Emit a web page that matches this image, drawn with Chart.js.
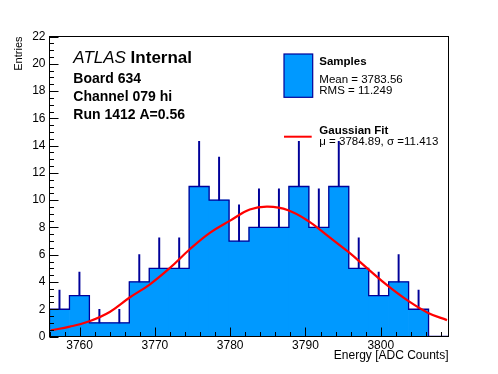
<!DOCTYPE html>
<html>
<head>
<meta charset="utf-8">
<script src="https://cdn.jsdelivr.net/npm/chart.js@4/dist/chart.umd.min.js"></script>
<style>
  body { margin: 0; background: #fff; }
</style>
</head>
<body>
<canvas id="HistChart" width="498" height="374"></canvas>
<script>
// histogram bins (ADC counts) and entries per bin
const binEdges = [3756.00, 3758.65, 3761.30, 3763.95, 3766.60, 3769.25, 3771.90, 3774.55, 3777.20, 3779.85,
                  3782.50, 3785.15, 3787.80, 3790.45, 3793.10, 3795.75, 3798.40, 3801.05, 3803.70, 3806.35, 3809.00];
const binCounts = [2, 3, 1, 1, 4, 5, 5, 11, 10, 7, 8, 8, 11, 8, 11, 5, 3, 4, 2, 0];
const binErrors = [1.41, 1.73, 1, 1, 2, 2.24, 2.24, 3.32, 3.16, 2.65, 2.83, 2.83, 3.32, 2.83, 3.32, 2.24, 1.73, 2, 1.41, 0];

// gaussian fit curve
const fitX = [3756.2, 3758.7, 3761.3, 3764.0, 3766.6, 3769.3, 3772.0, 3774.6, 3777.3, 3780.0, 3782.6,
              3785.0, 3787.7, 3790.4, 3793.0, 3795.7, 3798.4, 3801.0, 3803.7, 3806.3, 3808.8];
const fitY = [0.46, 0.72, 1.12, 1.8, 2.84, 3.81, 5.03, 6.38, 7.6, 8.5, 9.31,
              9.52, 9.26, 8.46, 7.36, 6.2, 4.91, 3.69, 2.59, 1.73, 1.2];

const xTicks = [3760, 3770, 3780, 3790, 3800];
const yTicks = [0, 2, 4, 6, 8, 10, 12, 14, 16, 18, 20, 22];

const FONT = "'Liberation Sans', Arial, Helvetica, sans-serif";
const FILL = '#0099ff';
const LINE = '#000099';

const binCenters = binCounts.map((c, i) => (binEdges[i] + binEdges[i + 1]) / 2);
const histFill = binCounts.map((c, i) => ({x: binCenters[i], y: c}));
const histErr = binCounts.map((c, i) => ({x: binCenters[i], y: [c, c + binErrors[i]]})).filter(p => p.y[1] > p.y[0]);

// outline of the histogram as a step line over the bin edges
const histLine = [{x: binEdges[0], y: 0}];
binCounts.forEach((c, i) => histLine.push({x: binEdges[i], y: c}));
histLine.push({x: binEdges[binEdges.length - 1], y: binCounts[binCounts.length - 1]});

const fitLine = fitX.map((x, i) => ({x: x, y: fitY[i]}));

// ROOT style frame with inward ticks, plus the text boxes
const rootFrame = {
    id: 'rootFrame',
    afterDatasetsDraw(chart) {
        const ctx = chart.ctx;
        const a = chart.chartArea;
        const xs = chart.scales.x;
        const ys = chart.scales.y;
        ctx.save();
        ctx.strokeStyle = '#000';
        ctx.lineWidth = 1;
        ctx.beginPath();
        for (let v = 3756; v <= xs.max; v += 2) {
            const px = Math.round(xs.getPixelForValue(v)) + 0.5;
            const len = v % 10 === 0 ? 9 : 4.5;
            ctx.moveTo(px, a.bottom);
            ctx.lineTo(px, a.bottom - len);
        }
        for (let v = 0; v <= ys.max; v += 0.5) {
            const py = Math.round(ys.getPixelForValue(v)) + 0.5;
            const len = v % 2 === 0 ? 9 : 4.5;
            ctx.moveTo(a.left, py);
            ctx.lineTo(a.left + len, py);
        }
        ctx.stroke();
        ctx.strokeRect(a.left, a.top, a.right - a.left, a.bottom - a.top);
        ctx.restore();
    },
    afterDraw(chart) {
        const ctx = chart.ctx;
        ctx.save();
        ctx.fillStyle = '#000';
        ctx.textBaseline = 'alphabetic';

        ctx.font = 'italic 17px ' + FONT;
        ctx.fillText('ATLAS', 73.3, 62.8);
        const w = ctx.measureText('ATLAS ').width;
        ctx.font = 'bold 17px ' + FONT;
        ctx.fillText('Internal', 73.3 + w, 62.8);

        ctx.font = 'bold 14px ' + FONT;
        ctx.fillText('Board 634', 73.3, 82.7);
        ctx.fillText('Channel 079 hi', 73.3, 100.8);
        ctx.fillText('Run 1412 A=0.56', 73.3, 118.8);

        // legend
        ctx.fillStyle = FILL;
        ctx.fillRect(284, 54, 28.7, 43.3);
        ctx.strokeStyle = LINE;
        ctx.lineWidth = 1.2;
        ctx.strokeRect(284, 54, 28.7, 43.3);
        ctx.strokeStyle = '#ff0000';
        ctx.lineWidth = 2;
        ctx.beginPath();
        ctx.moveTo(284, 136.7);
        ctx.lineTo(311.7, 136.7);
        ctx.stroke();

        ctx.fillStyle = '#000';
        ctx.font = 'bold 11.5px ' + FONT;
        ctx.fillText('Samples', 319.3, 65);
        ctx.fillText('Gaussian Fit', 319.3, 134.3);
        ctx.font = '11.5px ' + FONT;
        ctx.fillText('Mean = 3783.56', 319.3, 82.7);
        ctx.fillText('RMS = 11.249', 319.3, 93.6);
        ctx.fillText('\u03bc = 3784.89, \u03c3 =11.413', 319.3, 145);
        ctx.restore();
    }
};

const ctx_Hist = document.getElementById('HistChart').getContext('2d');
new Chart(ctx_Hist, {
    type: 'bar',
    data: {
        datasets: [
            {
                label: 'Samples',
                data: histFill,
                backgroundColor: FILL,
                borderWidth: 0,
                barPercentage: 1.0,
                categoryPercentage: 1.0,
                grouped: false,
                order: 4
            },
            {
                label: 'Errors',
                data: histErr,
                backgroundColor: LINE,
                borderWidth: 0,
                barThickness: 1.3,
                grouped: false,
                order: 3
            },
            {
                type: 'line',
                label: 'Outline',
                data: histLine,
                borderColor: LINE,
                borderWidth: 1.3,
                stepped: 'before',
                pointRadius: 0,
                fill: false,
                order: 2
            },
            {
                type: 'line',
                label: 'Gaussian Fit',
                data: fitLine,
                borderColor: '#ff0000',
                borderWidth: 2.2,
                tension: 0.4,
                pointRadius: 0,
                fill: false,
                order: 1
            }
        ]
    },
    options: {
        responsive: false,
        animation: false,
        devicePixelRatio: 1,
        layout: { padding: { left: 0, top: 36.5, right: 49.5, bottom: 0 } },
        plugins: { legend: { display: false }, tooltip: { enabled: false } },
        scales: {
            x: {
                type: 'linear',
                offset: false,
                min: 3756,
                max: 3809,
                grid: { display: false, drawTicks: false },
                border: { display: false },
                afterBuildTicks: s => { s.ticks = xTicks.map(v => ({value: v})); },
                afterFit: s => { s.height = 37.5; },
                ticks: { color: '#000', padding: 2, maxRotation: 0, callback: v => String(v), font: { family: FONT, size: 12 } },
                title: {
                    display: true,
                    text: 'Energy [ADC Counts]',
                    align: 'end',
                    color: '#000',
                    padding: { top: 0, bottom: 11 },
                    font: { family: FONT, size: 12 }
                }
            },
            y: {
                min: 0,
                max: 22,
                grid: { display: false, drawTicks: false },
                border: { display: false },
                afterBuildTicks: s => { s.ticks = yTicks.map(v => ({value: v})); },
                afterFit: s => { s.width = 49.5; },
                ticks: { color: '#000', padding: 4, font: { family: FONT, size: 12 } },
                title: {
                    display: true,
                    text: 'Entries',
                    align: 'end',
                    color: '#000',
                    padding: { top: 12, bottom: 0 },
                    font: { family: FONT, size: 11 }
                }
            }
        }
    },
    plugins: [rootFrame]
});
</script>
</body>
</html>
